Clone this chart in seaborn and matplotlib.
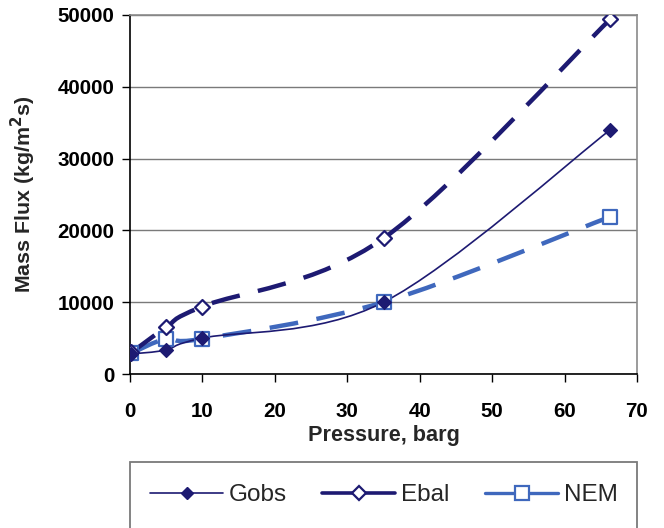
import numpy as np
import pandas as pd
import matplotlib
matplotlib.use("Agg")
import matplotlib.pyplot as plt
from matplotlib.path import Path
from matplotlib.patches import PathPatch, Rectangle
from matplotlib.lines import Line2D
import seaborn as sns

# Measured data
pressure = [0.2, 5.0, 10.0, 35.0, 66.3]
gobs = [2800, 3350, 5000, 10000, 34000]
ebal = [3000, 6500, 9400, 18900, 49400]
nem = [2900, 4900, 4900, 10000, 21900]

series_names = ["Gobs", "Ebal", "NEM"]
x_ticks = [0, 10, 20, 30, 40, 50, 60, 70]
y_ticks = [0, 10000, 20000, 30000, 40000, 50000]

NAVY = "#1d1a72"
BLUE = "#3f68bd"

sns.set_theme(style="white")
plt.rcParams["font.family"] = ["Liberation Sans", "DejaVu Sans"]

fig = plt.figure(figsize=(6.64, 5.28), dpi=100)
W, H = 664, 528
ax = fig.add_axes([130 / W, 1 - 374 / H, (637 - 130) / W, (374 - 15) / H])

df = pd.DataFrame({
    "Pressure": pressure * 3,
    "Flux": gobs + ebal + nem,
    "Series": sum([[n] * len(pressure) for n in series_names], []),
})


def smooth_path(xs, ys):
    """Cubic Bezier path through the points (Catmull-Rom style tangents)."""
    pts = np.column_stack([xs, ys]).astype(float)
    n = len(pts)
    verts = [pts[0]]
    codes = [Path.MOVETO]
    for i in range(n - 1):
        p0 = pts[i - 1] if i > 0 else pts[i]
        p1 = pts[i]
        p2 = pts[i + 1]
        p3 = pts[i + 2] if i + 2 < n else pts[i + 1]
        c1 = p1 + (p2 - p0) / 6.0
        c2 = p2 - (p3 - p1) / 6.0
        verts += [c1, c2, p2]
        codes += [Path.CURVE4] * 3
    return Path(verts, codes)


dash = (0, (6.5, 4.2))
line_styles = {
    "Gobs": dict(color=NAVY, lw=1.2, ls="-"),
    "Ebal": dict(color=NAVY, lw=3.2, ls=dash),
    "NEM": dict(color=BLUE, lw=3.2, ls=dash),
}
for name, ys in zip(["NEM", "Ebal", "Gobs"], [nem, ebal, gobs]):
    st = line_styles[name]
    patch = PathPatch(smooth_path(pressure, ys), facecolor="none",
                      edgecolor=st["color"], lw=st["lw"], linestyle=st["ls"],
                      capstyle="butt", zorder=3)
    ax.add_patch(patch)

marker_styles = {
    "NEM": dict(marker="s", s=10.5 ** 2, facecolor="white", edgecolor=BLUE, linewidth=1.6),
    "Ebal": dict(marker="D", s=7.6 ** 2, facecolor="white", edgecolor=NAVY, linewidth=1.6),
    "Gobs": dict(marker="D", s=7.0 ** 2, facecolor=NAVY, edgecolor=NAVY, linewidth=1.0),
}
for name in ["NEM", "Ebal", "Gobs"]:
    sub = df[df["Series"] == name]
    sns.scatterplot(data=sub, x="Pressure", y="Flux", ax=ax, legend=False,
                    zorder=4, **marker_styles[name])

ax.set_xlim(0, 70)
ax.set_ylim(0, 50000)
ax.set_xticks(x_ticks)
ax.set_yticks(y_ticks)
ax.set_xticklabels([str(v) for v in x_ticks])
ax.set_yticklabels([str(v) for v in y_ticks])
ax.yaxis.grid(True, color="#7a7a7a", lw=1.0)
ax.xaxis.grid(False)
ax.set_axisbelow(True)

for side in ["left", "bottom"]:
    ax.spines[side].set_color("black")
    ax.spines[side].set_linewidth(1.2)
for side in ["top", "right"]:
    ax.spines[side].set_color("#8a8a8a")
    ax.spines[side].set_linewidth(1.2)

ax.tick_params(axis="both", which="major", direction="out", length=6, width=1.0,
               color="black", labelsize=14.8, labelcolor="black")
ax.tick_params(axis="x", pad=14, bottom=True)
ax.tick_params(axis="y", pad=5, left=True)
for lab in ax.get_xticklabels() + ax.get_yticklabels():
    lab.set_fontweight("bold")

ax.set_xlabel("Pressure, barg", fontsize=15.6, fontweight="bold", labelpad=3)
ax.set_ylabel("Mass Flux (kg/m$^\\mathbf{2}$s)", fontsize=15.4, fontweight="bold")
ax.yaxis.set_label_coords(-92 / 507, 0.5)

# Legend box below the plot
fig.patches.append(Rectangle((130 / W, -0.05), (637 - 130) / W, 1 - 462 / H + 0.05,
                             transform=fig.transFigure, facecolor="white",
                             edgecolor="#7a7a7a", lw=1.3, zorder=1))
handles = [
    Line2D([], [], color=NAVY, lw=1.2, marker="D", markersize=6.6,
           markerfacecolor=NAVY, markeredgecolor=NAVY),
    Line2D([], [], color=NAVY, lw=2.6, marker="D", markersize=7.6,
           markerfacecolor="white", markeredgecolor=NAVY, markeredgewidth=1.6),
    Line2D([], [], color=BLUE, lw=2.4, marker="s", markersize=10.5,
           markerfacecolor="white", markeredgecolor=BLUE, markeredgewidth=1.6),
]
fig.legend(handles, series_names, loc="center", ncol=3, frameon=False,
           bbox_to_anchor=(384 / W, 1 - 495 / H), fontsize=17.5,
           handlelength=3.0, handletextpad=0.25, columnspacing=1.45)

fig.savefig("out.png", dpi=100)
